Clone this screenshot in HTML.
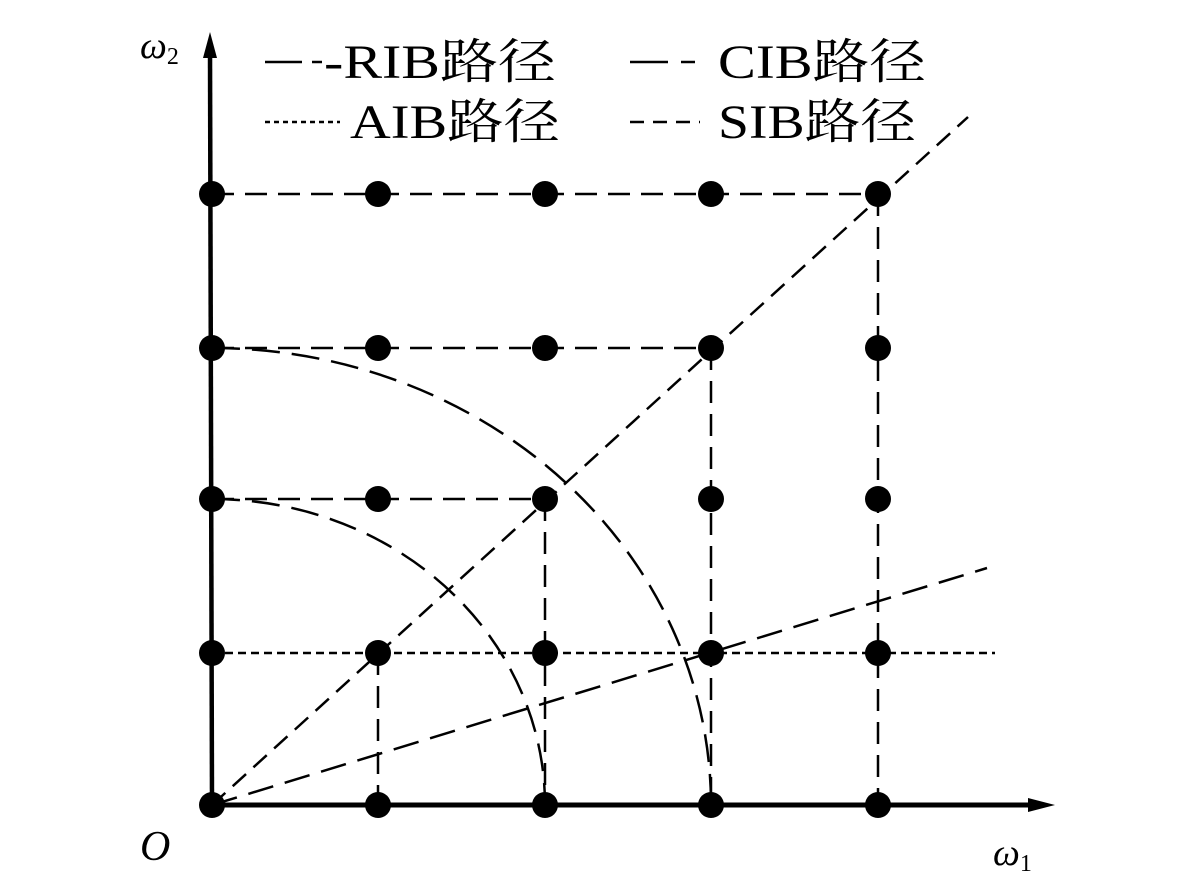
<!DOCTYPE html>
<html><head><meta charset="utf-8"><style>
body{margin:0;background:#fff;}
svg{display:block}
text{font-family:"Liberation Serif","Noto Serif CJK SC",serif;fill:#000}
</style></head><body>
<svg width="1181" height="890" viewBox="0 0 1181 890">
<g stroke="#000" fill="none" stroke-width="2.5">
<g stroke-dasharray="22,11">
<line x1="212" y1="194" x2="878" y2="194"/>
<line x1="212" y1="348" x2="711" y2="348"/>
<line x1="212" y1="499" x2="545" y2="499"/>
<line x1="378" y1="653" x2="378" y2="805"/>
<line x1="545" y1="499" x2="545" y2="805"/>
<line x1="711" y1="348" x2="711" y2="805"/>
<line x1="878" y1="194" x2="878" y2="805"/>
</g>
<line x1="212" y1="653" x2="995" y2="653" stroke-dasharray="8,5"/>
<line x1="212" y1="805" x2="968" y2="117" stroke-dasharray="18,10"/>
<line x1="212" y1="805" x2="987" y2="568" stroke-dasharray="26,12"/>
<path d="M212,499 A333,306 0 0 1 545,805" stroke-dasharray="28,12"/>
<path d="M212,348 A499,457 0 0 1 711,805" stroke-dasharray="28,12"/>
<line x1="212" y1="805" x2="210" y2="50" stroke-width="4.5"/>
<line x1="212" y1="805" x2="1035" y2="805" stroke-width="5"/>
</g>
<polygon points="210,32 203,58 217,58" fill="#000"/>
<polygon points="1055,805 1028,798 1028,812" fill="#000"/>
<g fill="#000">
<circle cx="212" cy="805" r="13"/><circle cx="378" cy="805" r="13"/><circle cx="545" cy="805" r="13"/><circle cx="711" cy="805" r="13"/><circle cx="878" cy="805" r="13"/>
<circle cx="212" cy="653" r="13"/><circle cx="378" cy="653" r="13"/><circle cx="545" cy="653" r="13"/><circle cx="711" cy="653" r="13"/><circle cx="878" cy="653" r="13"/>
<circle cx="212" cy="499" r="13"/><circle cx="378" cy="499" r="13"/><circle cx="545" cy="499" r="13"/><circle cx="711" cy="499" r="13"/><circle cx="878" cy="499" r="13"/>
<circle cx="212" cy="348" r="13"/><circle cx="378" cy="348" r="13"/><circle cx="545" cy="348" r="13"/><circle cx="711" cy="348" r="13"/><circle cx="878" cy="348" r="13"/>
<circle cx="212" cy="194" r="13"/><circle cx="378" cy="194" r="13"/><circle cx="545" cy="194" r="13"/><circle cx="711" cy="194" r="13"/><circle cx="878" cy="194" r="13"/>
</g>
<g stroke="#000" stroke-width="2.5">
<line x1="265" y1="62" x2="302" y2="62"/><line x1="312" y1="62" x2="322" y2="62"/>
<line x1="265" y1="122" x2="340" y2="122" stroke-dasharray="5,4"/>
<line x1="630" y1="62" x2="668" y2="62"/><line x1="681" y1="62" x2="695" y2="62"/>
<line x1="630" y1="122" x2="700" y2="122" stroke-dasharray="14,9"/>
</g>
<text x="324" y="78" font-size="48" textLength="232" lengthAdjust="spacingAndGlyphs">-RIB路径</text>
<text x="350" y="138" font-size="48" textLength="210" lengthAdjust="spacingAndGlyphs">AIB路径</text>
<text x="718" y="78" font-size="48" textLength="208" lengthAdjust="spacingAndGlyphs">CIB路径</text>
<text x="718" y="138" font-size="48" textLength="198" lengthAdjust="spacingAndGlyphs">SIB路径</text>
<text x="140" y="58" font-size="38" font-style="italic">ω<tspan font-size="24" dy="6" font-style="normal">2</tspan></text>
<text x="993" y="865" font-size="38" font-style="italic">ω<tspan font-size="24" dy="6" font-style="normal">1</tspan></text>
<text x="140" y="860" font-size="42" font-style="italic">O</text>
</svg>
</body></html>
